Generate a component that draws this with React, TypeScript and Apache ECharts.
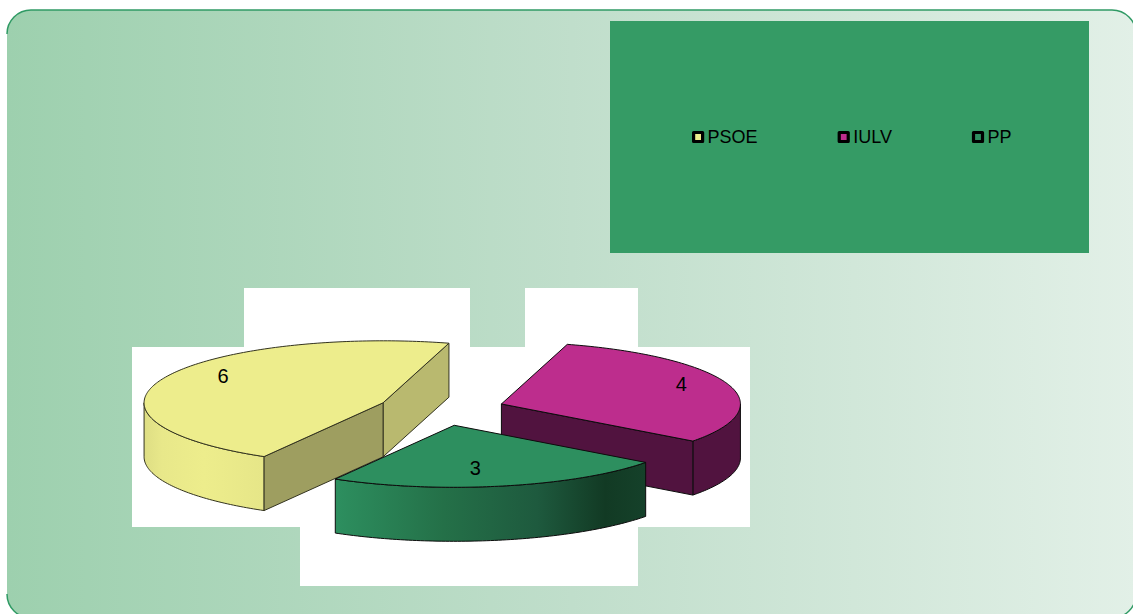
import React, { useEffect, useRef } from "react";
import * as echarts from "echarts";

const parties = ["PSOE", "IULV", "PP"];
const seats = [6, 4, 3];
const topColors = ["#eded8c", "#bd2d8d", "#2d8f5f"];

// Clockwise order of the slices, beginning at FIRST_ANGLE
const clockwise = [1, 2, 0];
const FIRST_ANGLE = 16;
const CX = 441.4;
const CY = 409.2;
const RX = 239;
const RY = 62;
const DEPTH = 54;
const EXPLODE = 0.265;
const labelOffsets = [
  [-160, -27],
  [180, -20],
  [21, 43],
];
const wallStops = [
  [
    [0, "#dede84"],
    [0.15, "#e8e88a"],
    [0.5, "#eded8c"],
    [1, "#e6e688"],
  ],
  [
    [0, "#51133f"],
    [1, "#51133f"],
  ],
  [
    [0, "#2d8f5f"],
    [0.35, "#247048"],
    [0.65, "#1e5a3e"],
    [0.87, "#123a24"],
    [1, "#15412a"],
  ],
];
const faceColors = [
  ["#9e9e60", "#b9b96f"],
  ["#51133f", "#51133f"],
  ["#1e5a3e", "#1e5a3e"],
];

const total = seats.reduce((a, b) => a + b, 0);
const rad = (d: number) => (d * Math.PI) / 180;

function sliceShapes(index: number, value: number) {
  const pos = clockwise.indexOf(index);
  const cumulative = clockwise.slice(0, pos).reduce((sum, i) => sum + seats[i], 0);
  const start = FIRST_ANGLE + (cumulative / total) * 360;
  const sweep = (value / total) * 360;
  const end = start + sweep;
  const mid = rad(start + sweep / 2);
  const ax = CX + Math.sin(mid) * RX * EXPLODE;
  const ay = CY - Math.cos(mid) * RY * EXPLODE;
  const pt = (deg: number, drop = 0): number[] => [
    ax + Math.sin(rad(deg)) * RX,
    ay - Math.cos(rad(deg)) * RY + drop,
  ];
  const arc = (a: number, b: number, drop = 0) => {
    const pts: number[][] = [];
    const n = Math.max(2, Math.ceil(Math.abs(b - a)));
    for (let i = 0; i <= n; i++) pts.push(pt(a + ((b - a) * i) / n, drop));
    return pts;
  };
  const stroke = { stroke: index === 0 ? "#33331f" : "#0c0c0c", lineWidth: 1, lineJoin: "round" };
  const children: any[] = [];

  // outer wall: only the front half of the rim faces the viewer
  const wall: number[][] = [];
  [90, 450].forEach((base) => {
    const a = Math.max(start, base);
    const b = Math.min(end, base + 180);
    if (b > a) wall.push([a, b]);
  });
  wall.forEach(([a, b]) => {
    const stops = wallStops[index].map(([o, c]) => ({ offset: o as number, color: c as string }));
    children.push({
      type: "polygon",
      shape: { points: [...arc(a, b), ...arc(b, a, DEPTH)] },
      style: { fill: new echarts.graphic.LinearGradient(0, 0, 1, 0, stops), ...stroke },
    });
  });

  // radial faces, when they turn to the viewer
  const face = (deg: number, fill: string) => ({
    type: "polygon",
    shape: { points: [[ax, ay], pt(deg), pt(deg, DEPTH), [ax, ay + DEPTH]] },
    style: { fill, ...stroke },
  });
  if (Math.sin(rad(end)) > 0) children.push(face(end, faceColors[index][1]));
  if (Math.sin(rad(start)) < 0) children.push(face(start, faceColors[index][0]));

  // top
  children.push({
    type: "polygon",
    shape: { points: [[ax, ay], ...arc(start, end)] },
    style: { fill: topColors[index], ...stroke },
  });
  // label
  children.push({
    type: "text",
    style: {
      x: ax + labelOffsets[index][0],
      y: ay + labelOffsets[index][1],
      text: String(value),
      fill: "#000",
      font: '20px "Liberation Sans"',
      align: "center",
      verticalAlign: "middle",
    },
  });
  return children;
}

export default function App() {
  const ref = useRef<HTMLDivElement>(null);
  useEffect(() => {
    document.body.style.margin = "0";
    const chart = echarts.init(ref.current!, undefined, { renderer: "svg" });
    const whiteRects = [
      [244, 288, 226, 59],
      [525, 288, 113, 59],
      [132, 347, 618, 180],
      [300, 527, 338, 59],
    ];
    const border = { fill: "transparent", stroke: "#2f9a64", lineWidth: 1.5 };
    const R = 24;
    const corners = [
      [7 + R, 10 + R, 1, 1.5],
      [1136 - R, 10 + R, 1.5, 2],
      [1136 - R, 618 - R, 0, 0.5],
      [7 + R, 618 - R, 0.5, 1],
    ];
    chart.setOption({
      animation: false,
      backgroundColor: "#ffffff",
      graphic: [
        {
          type: "rect",
          z: 0,
          shape: { x: 7, y: 10, width: 1129, height: 608, r: R },
          style: {
            fill: new echarts.graphic.LinearGradient(0, 0, 1, 0, [
              { offset: 0, color: "#9dd0ae" },
              { offset: 0.5, color: "#c0decb" },
              { offset: 1, color: "#e2f0e7" },
            ]),
          },
        },
        {
          type: "line",
          z: 0,
          shape: { x1: 7 + R, y1: 10, x2: 1136 - R, y2: 10 },
          style: { stroke: "#2f9a64", lineWidth: 1.5 },
        },
        ...corners.map(([cx, cy, a, b]) => ({
          type: "arc",
          z: 0,
          shape: { cx, cy, r: R, startAngle: a * Math.PI, endAngle: b * Math.PI, clockwise: true },
          style: border,
        })),
        {
          type: "rect",
          z: 0,
          shape: { x: 610, y: 21, width: 479, height: 232 },
          style: { fill: "#359b65" },
        },
        ...whiteRects.map(([x, y, width, height]) => ({
          type: "rect",
          z: 0,
          shape: { x, y, width, height },
          style: { fill: "#ffffff" },
        })),
      ],
      legend: {
        left: 692,
        top: 128,
        padding: 0,
        itemGap: 80,
        itemWidth: 9,
        itemHeight: 9,
        selectedMode: false,
        textStyle: { fontFamily: "Liberation Sans", fontSize: 18, color: "#000" },
        data: parties.map((name, i) => ({
          name,
          icon: "rect",
          itemStyle: { color: topColors[i], borderColor: "#000", borderWidth: 3.2, borderJoin: "round" },
        })),
      },
      series: parties.map((name, i) => ({
        type: "custom",
        name,
        coordinateSystem: "none",
        silent: true,
        itemStyle: { color: topColors[i] },
        data: [[seats[i]]],
        renderItem: (_p: any, api: any) => ({
          type: "group",
          children: sliceShapes(i, api.value(0)),
        }),
      })),
    });
    return () => chart.dispose();
  }, []);
  return <div ref={ref} style={{ width: 1133, height: 614, position: "absolute", left: 0, top: 0 }} />;
}
